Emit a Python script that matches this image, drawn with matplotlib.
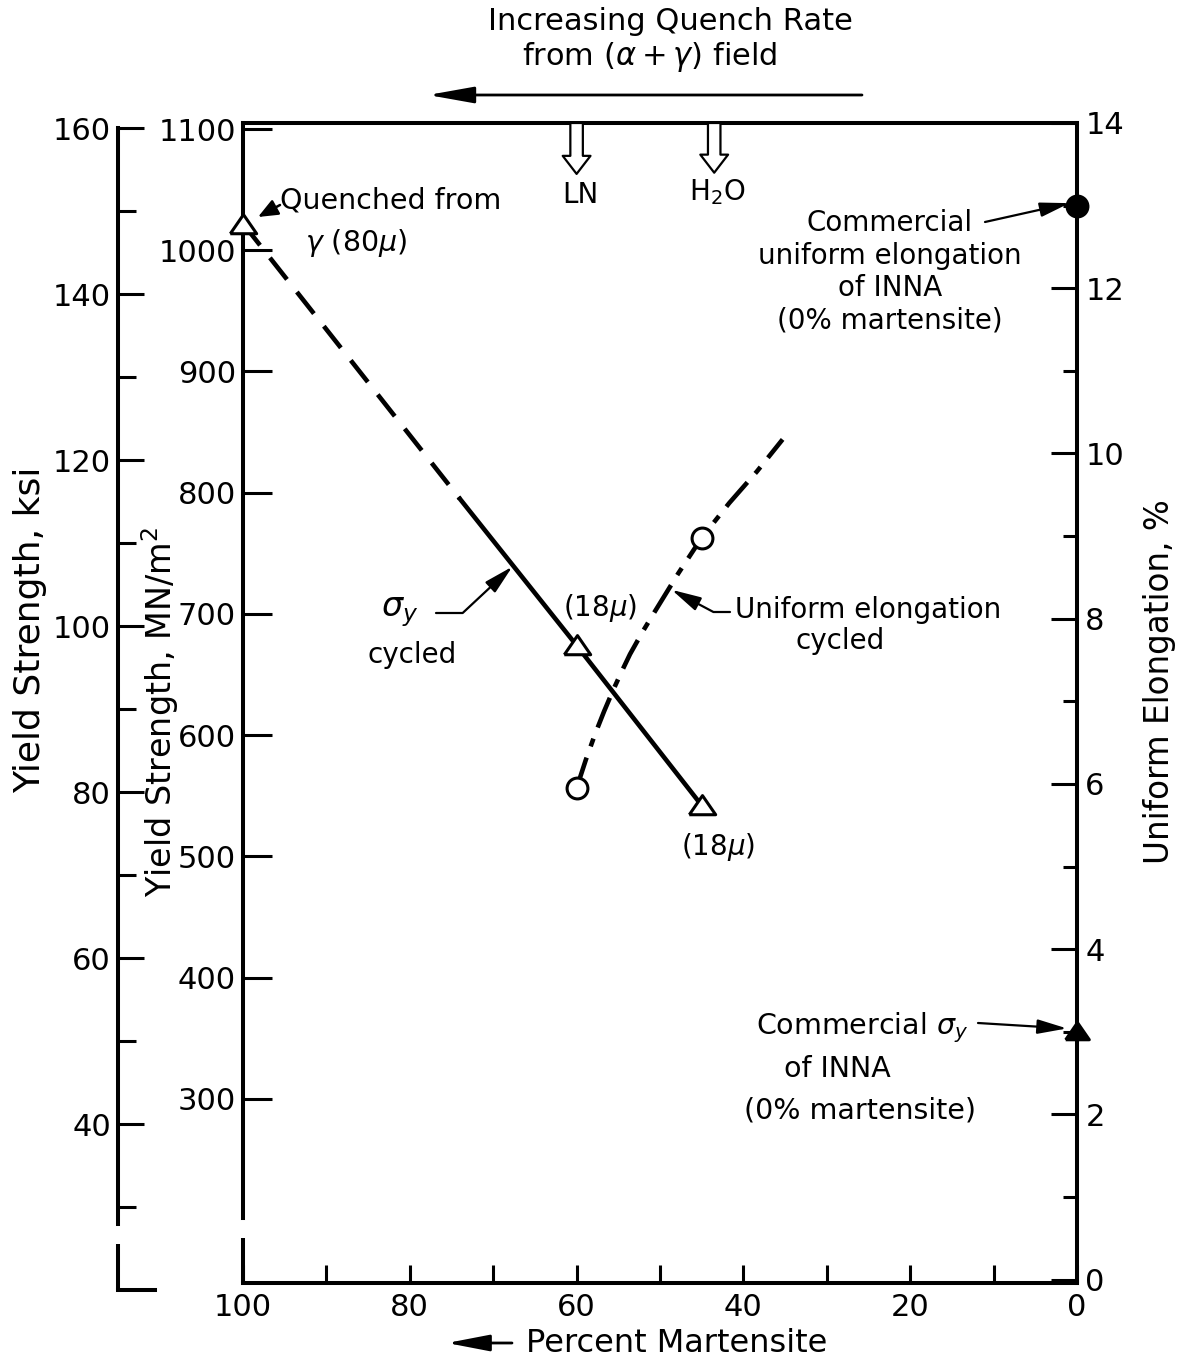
import matplotlib.pyplot as plt
from matplotlib.patches import FancyArrowPatch
from matplotlib.ticker import MultipleLocator, FixedLocator

plt.rcParams['font.family'] = ['DejaVu Sans']
plt.rcParams['mathtext.fontset'] = 'dejavusans'

# axis ticks
pct_ticks = [100, 80, 60, 40, 20, 0]
mpa_ticks = [300, 400, 500, 600, 700, 800, 900, 1000, 1100]
ksi_ticks = [40, 60, 80, 100, 120, 140, 160]
ksi_minor = [30, 50, 70, 90, 110, 130, 150]
el_ticks = [0, 2, 4, 6, 8, 10, 12, 14]

# yield strength after cycling, MN/m^2 (dashed part = extrapolated)
sy_dash_pct = [100, 74]
sy_dash_mpa = [1022, 795]
sy_pct = [74, 60, 45]
sy_mpa = [795, 674, 542]
sy_pt_pct = [100, 60, 45]
sy_pt_mpa = [1022, 674, 542]

# uniform elongation after cycling, %
el_pct = [60, 58.9, 57.8, 56.7, 55.6, 54.6, 53.6, 52.1, 50.6, 47.8, 45, 41.7, 38.4, 35.3]
el_val = [5.95, 6.29, 6.60, 6.88, 7.14, 7.36, 7.57, 7.84, 8.09, 8.55, 8.98, 9.40, 9.78, 10.17]
el_pt_pct = [60, 45]
el_pt_val = [5.95, 8.98]

# commercial INNA, 0% martensite
com_pct = [0]
com_el = [13.0]
com_sy = [356]

# quench media marks
q_pct = [60, 43.5]
q_lbl = ['LN', r'H$_2$O']

W, H = 1177, 1363
LW = 2.9


def box(x0, y0, x1, y1):
    return [x0 / W, 1 - y1 / H, (x1 - x0) / W, (y1 - y0) / H]


def fp(x, y):
    return (x / W, 1 - y / H)


fig = plt.figure(figsize=(W / 100, H / 100), dpi=100)
fig.patch.set_facecolor('white')

ax = fig.add_axes(box(243, 123, 1077, 1283))
ax.set_xlim(100, 0)
ax.set_ylim(148, 1105)
ax2 = ax.twinx()
ax2.set_ylim(-0.04, 14.0)
ax3 = fig.add_axes(box(118, 128, 155, 1290))
ax3.set_xlim(0, 1)
ax3.set_ylim(20, 160)
ax3.patch.set_visible(False)

# spines
for a in (ax, ax2, ax3):
    for s in a.spines.values():
        s.set_linewidth(LW)
ax.spines['right'].set_visible(False)
for s in ('left', 'top', 'bottom'):
    ax2.spines[s].set_visible(False)
ax3.spines['top'].set_visible(False)
ax3.spines['right'].set_visible(False)

# broken left spines
ax.spines['left'].set_bounds(202, 1105)
ax.plot([100, 100], [148, 185], color='k', lw=LW, clip_on=False, solid_capstyle='butt')
ax3.spines['left'].set_bounds(28, 160)
ax3.plot([0, 0], [20, 25.5], color='k', lw=LW, clip_on=False, solid_capstyle='butt')

# ticks
ax.xaxis.set_major_locator(FixedLocator(pct_ticks))
ax.xaxis.set_minor_locator(MultipleLocator(10))
ax.tick_params(axis='x', which='both', direction='in', length=13, width=2.2,
               labelsize=22, pad=7)
ax.yaxis.set_major_locator(FixedLocator(mpa_ticks))
ax.tick_params(axis='y', which='major', direction='in', length=21, width=2.2,
               labelsize=22, pad=5)

ax2.yaxis.set_major_locator(FixedLocator(el_ticks))
ax2.yaxis.set_minor_locator(MultipleLocator(1))
ax2.tick_params(axis='y', which='major', direction='in', length=19, width=2.2,
                labelsize=22, pad=6)
ax2.tick_params(axis='y', which='minor', direction='in', length=10, width=2.2)

ax3.set_xticks([])
ax3.yaxis.set_major_locator(FixedLocator(ksi_ticks))
ax3.yaxis.set_minor_locator(FixedLocator(ksi_minor))
ax3.tick_params(axis='y', which='major', direction='in', length=19, width=2.2,
                labelsize=22, pad=5)
ax3.tick_params(axis='y', which='minor', direction='in', length=13, width=2.2)

# flat triangle marker
tri = [(-1, -0.7), (1, -0.7), (0, 0.75), (-1, -0.7)]

# yield strength line
ax.plot(sy_dash_pct, sy_dash_mpa, color='k', lw=3.3, linestyle=(0, (6, 3.5)), zorder=3)
ax.plot(sy_pct, sy_mpa, color='k', lw=3.3, zorder=3)
ax.plot(sy_pt_pct, sy_pt_mpa, linestyle='none', marker=tri, markersize=19,
        mfc='white', mec='k', mew=2.2, clip_on=False, zorder=5)
ax.plot(com_pct, com_sy, linestyle='none', marker=tri, markersize=17,
        mfc='k', mec='k', mew=2.2, clip_on=False, zorder=5)

# elongation line
ax2.plot(el_pct, el_val, color='k', lw=3.3, linestyle=(0, (7, 2.6, 1.8, 2.6)), zorder=3)
ax2.plot(el_pt_pct, el_pt_val, linestyle='none', marker='o', markersize=15,
         mfc='white', mec='k', mew=2.2, zorder=5)
ax2.plot(com_pct, com_el, linestyle='none', marker='o', markersize=15,
         mfc='k', mec='k', mew=2.2, clip_on=False, zorder=5)

# quench arrows at the top
for p, lbl, tip_y, ty in zip(q_pct, q_lbl, [1063, 1064], [1046, 1048]):
    ax.annotate('', xy=(p, tip_y), xytext=(p, 1105), xycoords='data',
                arrowprops=dict(arrowstyle='simple,head_length=0.65,head_width=1.0,tail_width=0.45',
                                fc='white', ec='k', lw=1.6, mutation_scale=20,
                                shrinkA=0, shrinkB=0), annotation_clip=False)
    ax.text(p - 0.4, ty, lbl, ha='center', va='center', fontsize=20)

thin = dict(arrowstyle='-|>,head_length=0.9,head_width=0.22', color='k', lw=1.6,
            mutation_scale=20, shrinkA=0, shrinkB=0)

# annotations
fig.text(*fp(280, 200), 'Quenched from', ha='left', va='center', fontsize=20.5)
fig.text(*fp(305, 243), r'$\gamma$ (80$\mu$)', ha='left', va='center', fontsize=20.5)
fig.add_artist(FancyArrowPatch(
    fp(280, 205), fp(258, 217), transform=fig.transFigure,
    arrowstyle='-|>,head_length=0.6,head_width=0.25', color='k', lw=1.8,
    mutation_scale=20, shrinkA=0, shrinkB=0))

ax.text(57.2, 705, r'(18$\mu$)', ha='center', va='center', fontsize=20)
ax.text(43.0, 508, r'(18$\mu$)', ha='center', va='center', fontsize=20)

fig.text(*fp(400, 612), r'$\sigma_y$', ha='center', va='center', fontsize=24)
fig.text(*fp(412, 655), 'cycled', ha='center', va='center', fontsize=20)
ax.annotate('', xy=(67.7, 739), xytext=fp(436, 613), textcoords='figure fraction',
            arrowprops=dict(thin, connectionstyle='angle,angleA=0,angleB=43,rad=0'))

fig.text(*fp(735, 610), 'Uniform elongation', ha='left', va='center', fontsize=20)
fig.text(*fp(840, 641), 'cycled', ha='center', va='center', fontsize=20)
ax2.annotate('', xy=(48.6, 8.35), xytext=fp(730, 612), textcoords='figure fraction',
             arrowprops=dict(thin, connectionstyle='angle,angleA=0,angleB=-28,rad=0'))

fig.text(*fp(890, 272), 'Commercial\nuniform elongation\nof INNA\n(0% martensite)',
         ha='center', va='center', fontsize=20, linespacing=1.2)
ax2.annotate('', xy=(0.9, 13.03), xytext=fp(985, 222), textcoords='figure fraction',
             arrowprops=thin)

fig.text(*fp(862, 1028), r'Commercial $\sigma_y$', ha='center', va='center', fontsize=20.5)
fig.text(*fp(837, 1069), 'of INNA', ha='center', va='center', fontsize=20.5)
fig.text(*fp(860, 1110), '(0% martensite)', ha='center', va='center', fontsize=20.5)
ax.annotate('', xy=(1.2, 358), xytext=fp(978, 1023), textcoords='figure fraction',
            arrowprops=thin)

# axis labels
fig.text(*fp(30, 630), 'Yield Strength, ksi', rotation=90, ha='center', va='center', fontsize=26)
fig.text(*fp(160, 712), r'Yield Strength, MN/m$^2$', rotation=90, ha='center', va='center', fontsize=24)
fig.text(*fp(1160, 682), 'Uniform Elongation, %', rotation=90, ha='center', va='center', fontsize=23.5)

# top note and bottom label
fig.text(*fp(670, 22), 'Increasing Quench Rate', ha='center', va='center', fontsize=22)
fig.text(*fp(650, 57), r'from ($\alpha+\gamma$) field', ha='center', va='center', fontsize=22)
fig.add_artist(FancyArrowPatch(
    fp(862, 95), fp(428, 95), transform=fig.transFigure,
    arrowstyle='-|>,head_length=1.4,head_width=0.25', color='k', lw=2,
    mutation_scale=20, shrinkA=0, shrinkB=0))

fig.text(*fp(677, 1343), 'Percent Martensite', ha='center', va='center', fontsize=23)
fig.add_artist(FancyArrowPatch(
    fp(512, 1343), fp(447, 1343), transform=fig.transFigure,
    arrowstyle='-|>,head_length=1.3,head_width=0.25', color='k', lw=2,
    mutation_scale=20, shrinkA=0, shrinkB=0))

fig.savefig('out.png', dpi=100, facecolor='white')
